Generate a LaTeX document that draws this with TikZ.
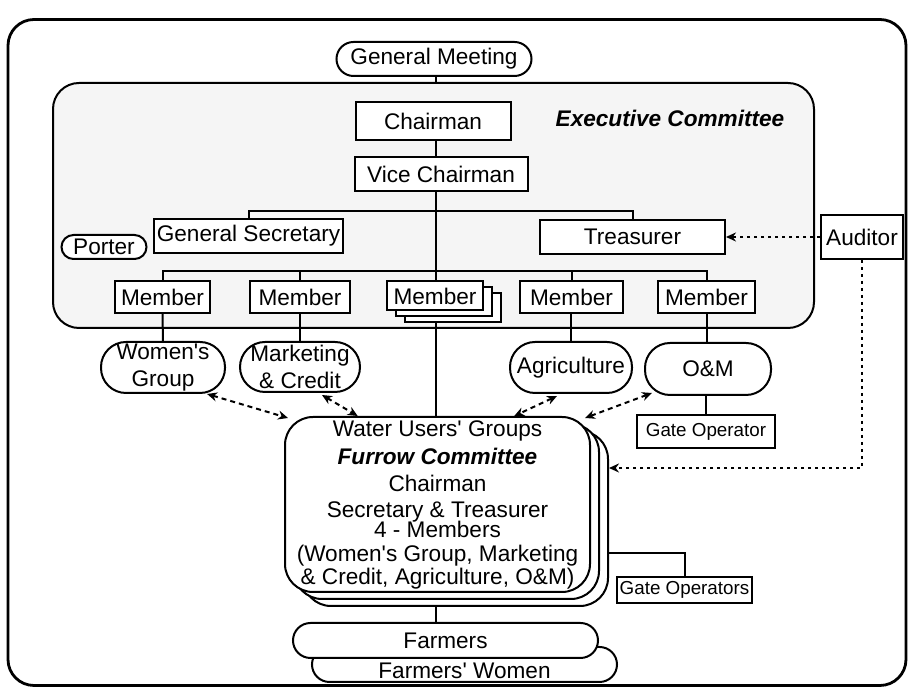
\documentclass[tikz,border=0pt]{standalone}
\usepackage{fontspec}
\setmainfont{Liberation Sans}
\usetikzlibrary{arrows.meta,shapes.misc,calc}
\newcommand{\ap}{\textquotesingle}
\begin{document}
\begin{tikzpicture}[x=0.5pt,y=-0.5pt,
  every node/.style={font=\fontsize{11.3}{13.5}\selectfont, inner sep=0pt},
  box/.style={draw, line width=1pt, fill=white, rectangle},
  oval/.style={draw, line width=1pt, fill=white, rounded rectangle},
  rbox/.style={draw, line width=1pt, fill=white, rounded corners=12.5pt, align=center},
  conn/.style={line width=1pt},
  dbl/.style={line width=1pt, dash pattern=on 2.5pt off 2pt, {Stealth[length=5pt,width=4.5pt]}-{Stealth[length=5pt,width=4.5pt]}},
  dotl/.style={line width=1.1pt, dash pattern=on 1.5pt off 2pt, -{Stealth[length=5pt,width=4.5pt]}},
  small/.style={font=\fontsize{9.4}{11}\selectfont},
]
\useasboundingbox (0,0) rectangle (912,688);
% frames
\node[draw, line width=1.4pt, rounded corners=13pt, minimum width=449pt, minimum height=333pt] (frame) at (457,352.5) {};
\node[draw, line width=1pt, fill=black!4, rounded corners=13pt, minimum width=380.5pt, minimum height=122.5pt] (exec) at (433.5,205.5) {};
\coordinate (trunk) at (436,0);
\coordinate (br1) at (436,211);
\coordinate (br2) at (436,271);
\coordinate (audy) at (0,468);
\coordinate (gy) at (0,553);

% top
\node[oval, minimum width=97.5pt, minimum height=17pt] (gm) at (434,59) {General Meeting};
\node[font=\fontsize{11.3}{13.5}\selectfont\bfseries\itshape] (exectitle) at (670,118) {Executive Committee};
\node[box, minimum width=77.5pt, minimum height=19pt] (chair) at (433,121) {Chairman};
\node[box, minimum width=86.5pt, minimum height=17pt] (vice) at (441,174) {Vice Chairman};
\node[box, minimum width=94.5pt, minimum height=17pt] (gsec) at (248.5,236) {General Secretary};
\node[box, minimum width=92.5pt, minimum height=17pt] (treas) at (632.5,237) {Treasurer};
\node[oval, minimum width=42.5pt, minimum height=12pt] (porter) at (104,247) {Porter};
\node[box, minimum width=41pt, minimum height=22pt] (auditor) at (862,237) {Auditor};

% members
\node[box, minimum width=47.5pt, minimum height=16pt] (m1) at (162.5,297) {Member};
\node[box, minimum width=50pt, minimum height=16pt] (m2) at (300,297) {Member};
\node[box, minimum width=48pt, minimum height=14.5pt] (m3c) at (453,308) {};
\node[box, minimum width=48pt, minimum height=14.5pt] (m3b) at (444,302) {};
\node[box, minimum width=48pt, minimum height=14.5pt] (m3) at (435,296) {Member};
\node[box, minimum width=51.5pt, minimum height=16pt] (m4) at (571.5,297) {Member};
\node[box, minimum width=48.5pt, minimum height=16pt] (m5) at (706.5,297) {Member};

% groups
\node[rbox, minimum width=62pt, minimum height=25.5pt] (women) at (163,367.5) {Women\ap s\\Group};
\node[rbox, minimum width=60pt, minimum height=25pt] (mc) at (300,367) {Marketing\\\& Credit};
\node[rbox, minimum width=61pt, minimum height=25.5pt] (agri) at (571,367.5) {Agriculture};
\node[rbox, minimum width=63pt, minimum height=26pt] (om) at (708,369) {O\&M};
\node[box, small, minimum width=69pt, minimum height=16.5pt] (gateop) at (706,431.5) {Gate Operator};

% water users groups
\node[draw, line width=1pt, fill=white, rounded corners=14pt, minimum width=152.5pt, minimum height=87.5pt] (wug3) at (455.5,518.5) {};
\node[draw, line width=1pt, fill=white, rounded corners=14pt, minimum width=152.5pt, minimum height=87.5pt] (wug2) at (446.5,511.5) {};
\node[draw, line width=1pt, fill=white, rounded corners=14pt, minimum width=152.5pt, minimum height=87.5pt, align=center, font=\fontsize{11.3}{11.5}\selectfont] (wug) at (437.5,504.5)
 {Water Users\ap\ Groups\\[2.5pt]
  \textbf{\textit{Furrow Committee}}\\[2pt]
  Chairman\\[1.5pt]
  Secretary \& Treasurer\\[-1.5pt]
  4 - Members\\[0.5pt]
  (Women\ap s Group, Marketing\\
  \& Credit, Agriculture, O\&M)};
\node[box, small, minimum width=67.5pt, minimum height=13pt] (gateops) at (684.5,590) {Gate Operators};

% farmers
\node[oval, minimum width=152.5pt, minimum height=17.5pt] (fwomen) at (464.5,664.5) {};
\node (fwtext) at (464.5,671) {Farmers\ap\ Women};
\node[oval, minimum width=152.5pt, minimum height=17.5pt] (farmers) at (445.5,640.5) {Farmers};

% connectors
\draw[conn] (gm.south -| trunk) -- (exec.north -| trunk);
\draw[conn] (chair.south -| trunk) -- (vice.north -| trunk);
\draw[conn] (vice.south -| trunk) -- (m3.north -| trunk);
\draw[conn] (gsec.north) |- (br1) -| (treas.north);
\draw[conn] (m1.north) |- (br2) -| (m5.north);
\draw[conn] (m2.north) -- (m2.north |- br2);
\draw[conn] (m4.north) -- (m4.north |- br2);
\draw[conn] (m1.south) -- (women.north);
\draw[conn] (m2.south) -- (mc.north);
\draw[conn] (m4.south -| agri.north) -- (agri.north);
\draw[conn] (m5.south) -- (m5.south |- om.north);
\draw[conn] (m3c.south -| trunk) -- (wug.north -| trunk);
\draw[conn] (om.south -| gateop.north) -- (gateop.north);
\draw[conn] (wug3.east |- gy) -| (gateops.north);
\draw[conn] (wug3.south -| trunk) -- (farmers.north -| trunk);

% auditor
\draw[dotl] (auditor.west) -- (treas.east);
\draw[dotl] (auditor.south) |- (wug3.east |- audy);

% dashed links
\draw[dbl] ($(women.south)!0.7!(women.south east)$) -- ($(wug.north west)+(4,2)$);
\draw[dbl] ($(mc.south)+(22,2)$) -- ($(wug.north west)!0.24!(wug.north east)$);
\draw[dbl] ($(agri.south)+(-14,2)$) -- ($(wug.north west)!0.75!(wug.north east)$);
\draw[dbl] ($(om.south west)+(8,-3)$) -- ($(wug.north east)+(-6,2)$);
\end{tikzpicture}
\end{document}
